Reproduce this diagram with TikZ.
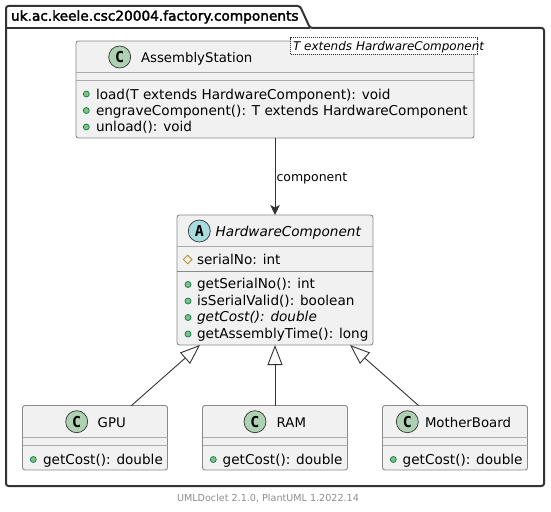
\documentclass[tikz,border=0pt]{standalone}
\usepackage{fontspec}
\setmainfont{DejaVu Sans}
\newfontfamily\spotfont{DejaVu Sans Mono}
\newfontfamily\pkgfont[FakeBold=2.2]{DejaVu Sans}
\usetikzlibrary{arrows.meta}
\usetikzlibrary{shapes.geometric}
\definecolor{boxfill}{HTML}{F1F1F1}
\definecolor{boxline}{HTML}{8A8A8A}
\definecolor{sepline}{HTML}{ABABAB}
\definecolor{frameline}{HTML}{333333}
\definecolor{spotclass}{HTML}{ADD1B2}
\definecolor{spotabstract}{HTML}{A9DCDF}
\definecolor{pubfill}{HTML}{84BE84}
\definecolor{publine}{HTML}{038048}
\definecolor{protline}{HTML}{B38D22}

\begin{document}
\begin{tikzpicture}[x=1pt, y=-1pt,
    every node/.style={inner sep=0, outer sep=0},
    cls/.style={draw=boxline, fill=boxfill, line width=0.9pt, rounded corners=2.5pt, anchor=north west},
    sep/.style={draw=sepline, line width=1.1pt},
    spot/.style args={#1}{circle, draw=black!80, line width=0.7pt, fill=#1, minimum size=22pt, font=\spotfont\bfseries\fontsize{15}{15}\selectfont},
    pubdot/.style={circle, draw=publine, line width=0.7pt, fill=pubfill, minimum size=6pt},
    protdot/.style={diamond, draw=protline, line width=0.8pt, minimum size=8.6pt},
    txt/.style={anchor=base west, font=\fontsize{13.6}{16}\selectfont},
    ttl/.style={anchor=base west, font=\fontsize{13.3}{16}\selectfont},
    itxt/.style={txt, font=\fontsize{13.6}{16}\selectfont\itshape},
    rel/.style={draw=black!80, line width=0.9pt},
    isa/.style={rel, -{Triangle[open, length=20pt, width=15pt, fill=white]}}
  ]
  \useasboundingbox (0,0) rectangle (551,511);
  % package frame
  \draw[frameline, line width=2pt, rounded corners=2.5pt, fill=white]
    (6,28) -- (6,6) -- (300,6) -- (310,28) -- (544,28) -- (544,486) -- (6,486) -- cycle;
  \draw[frameline, line width=2pt] (6,28) -- (310,28);
  \node[anchor=base west, font=\pkgfont\fontsize{13.7}{16}\selectfont] (pkg) at (11,20.7) {uk.ac.keele.csc20004.factory.components};

  % classes
  \node[cls, minimum width=398pt, minimum height=97pt] (AS) at (76,41) {};
  \node[cls, minimum width=196pt, minimum height=130pt] (HC) at (177,215) {};
  \node[cls, minimum width=145pt, minimum height=64.5pt] (GPU) at (22.5,405.5) {};
  \node[cls, minimum width=145pt, minimum height=64.5pt] (RAM) at (202.5,405.5) {};
  \node[cls, minimum width=145pt, minimum height=64.5pt] (MB) at (382.5,405.5) {};

  % compartments
  \draw[sep] (AS.west |- 0,72.5) -- (AS.east |- 0,72.5);
  \draw[sep] (AS.west |- 0,80.5) -- (AS.east |- 0,80.5);
  \draw[sep] (HC.west |- 0,246.7) -- (HC.east |- 0,246.7);
  \draw[sep, line width=0.8pt, draw=boxline] (HC.west |- 0,271) -- (HC.east |- 0,271);
  \foreach \c in {GPU,RAM,MB} {
    \draw[sep] (\c.west |- 0,437.7) -- (\c.east |- 0,437.7);
    \draw[sep] (\c.west |- 0,445.7) -- (\c.east |- 0,445.7);
  }

  % template box
  \node[draw=black!80, dash pattern=on 1pt off 1pt, line width=0.7pt, fill=white, anchor=north west, minimum width=186.3pt, minimum height=16.3pt] (TB) at (290.7,37.7) {};
  \node[anchor=base west, font=\fontsize{12}{14}\selectfont\itshape] (TT) at (293,51) {T extends HardwareComponent};

  % headers
  \node[spot=spotclass] (ASs) at (119.7,57) {C};
  \node[ttl] (ASt) at (141,62.3) {AssemblyStation};
  \node[spot=spotabstract] (HCs) at (199.3,231) {A};
  \node[itxt] (HCt) at (215.7,236) {HardwareComponent};
  \node[spot=spotclass] (GPUs) at (76.7,421.7) {C};
  \node[ttl] (GPUt) at (97.7,427.3) {GPU};
  \node[spot=spotclass] (RAMs) at (255,421.7) {C};
  \node[ttl] (RAMt) at (276.7,427.3) {RAM};
  \node[spot=spotclass] (MBs) at (407.3,421.7) {C};
  \node[ttl] (MBt) at (425,427.3) {MotherBoard};

  % members
  \node[pubdot] (ASd1) at (86.3,94) {};
  \node[pubdot] (ASd2) at (86.3,110.5) {};
  \node[pubdot] (ASd3) at (86.3,127) {};
  \node[txt] (ASm1) at (96,99) {load(T extends HardwareComponent): void};
  \node[txt] (ASm2) at (96,115.3) {engraveComponent(): T extends HardwareComponent};
  \node[txt] (ASm3) at (96,131.7) {unload(): void};

  \node[protdot] (HCd0) at (187.7,259.5) {};
  \node[txt] (HCf) at (197,264) {serialNo: int};
  \node[pubdot] (HCd1) at (188,284.5) {};
  \node[pubdot] (HCd2) at (188,301) {};
  \node[pubdot] (HCd3) at (188,317.5) {};
  \node[pubdot] (HCd4) at (188,334) {};
  \node[txt] (HCm1) at (197,288.7) {getSerialNo(): int};
  \node[txt] (HCm2) at (197,305.2) {isSerialValid(): boolean};
  \node[itxt] (HCm3) at (197,321.7) {getCost(): double};
  \node[txt] (HCm4) at (197,338) {getAssemblyTime(): long};

  \node[pubdot] (GPUd) at (33.3,459.5) {};
  \node[txt] (GPUm) at (43,464) {getCost(): double};
  \node[pubdot] (RAMd) at (213.3,459.5) {};
  \node[txt] (RAMm) at (222.7,464) {getCost(): double};
  \node[pubdot] (MBd) at (393.3,459.5) {};
  \node[txt] (MBm) at (402.7,464) {getCost(): double};

  % relations
  \draw[rel, -{Stealth[length=10pt, width=9.5pt, inset=2.5pt]}] (AS.south) -- node[right=1.5pt, font=\fontsize{12.5}{14}\selectfont, yshift=-2pt]{component} (HC.north);
  \draw[isa] ([xshift=36.5pt]GPU.north) -- ([xshift=-75pt]HC.south);
  \draw[isa] (RAM.north) -- (HC.south);
  \draw[isa] ([xshift=-36.5pt]MB.north) -- ([xshift=75pt]HC.south);

  \node[anchor=base, text=black!45, font=\fontsize{9.6}{12}\selectfont] (foot) at (268,501.7) {UMLDoclet 2.1.0, PlantUML 1.2022.14};
\end{tikzpicture}
\end{document}
